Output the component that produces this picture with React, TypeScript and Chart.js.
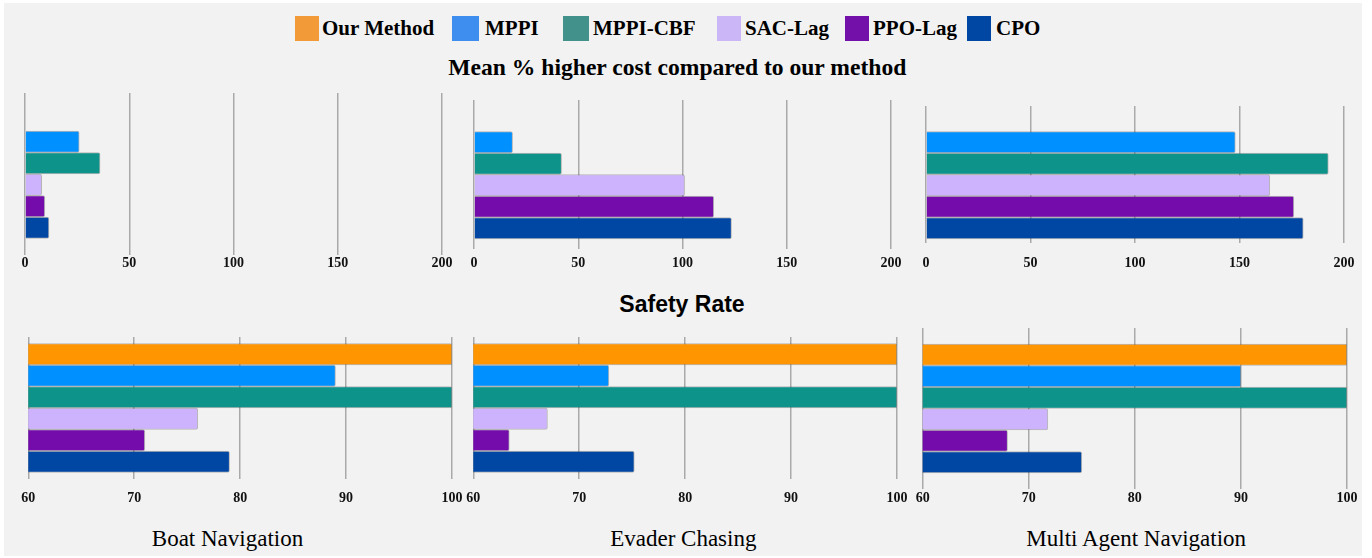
import React, { useEffect, useRef } from "react";
import { Chart, registerables } from "chart.js";
Chart.register(...registerables);

// ---------- data ----------
const METHODS = ["Our Method", "MPPI", "MPPI-CBF", "SAC-Lag", "PPO-Lag", "CPO"];
const BAR_COLORS = ["#ff9500", "#0090ff", "#0e938b", "#cdb3fe", "#730cab", "#0047a4"];
const LEGEND_COLORS = ["#f39a38", "#3e8ef0", "#42918a", "#cbb6f7", "#7210a9", "#0047a3"];
const TASKS = ["Boat Navigation", "Evader Chasing", "Multi Agent Navigation"];

const COST_BOAT = [0, 26, 36, 8, 9.5, 11.5];
const COST_EVADER = [0, 18.5, 42, 101, 115, 123.5];
const COST_MULTI = [0, 148, 192.5, 164.5, 176, 180.5];

const SAFETY_BOAT = [100, 89, 100, 76, 71, 79];
const SAFETY_EVADER = [100, 72.8, 100, 67, 63.4, 75.2];
const SAFETY_MULTI = [100, 90, 100, 71.8, 68, 75];

const COST_TICKS = [0, 50, 100, 150, 200];
const SAFETY_TICKS = [60, 70, 80, 90, 100];

// ---------- layout (pixels) ----------
const LEGEND_BOX_X = [295, 452, 563, 717, 845, 967];
const LEGEND_BOX_W = [24, 27, 26, 24, 24, 24];
const LEGEND_TEXT_X = [322, 485, 593, 745, 873, 996];

type Rect = { l: number; r: number; t: number; b: number; pad: number };
const PADL = 32;
const PADR = 32;
const PADT = 4;
const PADB = 2;
const AX = 32;
const TICK_FONT = 14;

const PANELS: { task: string; values: number[]; ticks: number[]; rect: Rect }[] = [
  { task: TASKS[0], values: COST_BOAT, ticks: COST_TICKS, rect: { l: 25, r: 442, t: 93, b: 255, pad: 0 } },
  { task: TASKS[1], values: COST_EVADER, ticks: COST_TICKS, rect: { l: 474, r: 891, t: 100, b: 249, pad: 5.7 } },
  { task: TASKS[2], values: COST_MULTI, ticks: COST_TICKS, rect: { l: 926, r: 1344, t: 106, b: 243, pad: 11.7 } },
  { task: TASKS[0], values: SAFETY_BOAT, ticks: SAFETY_TICKS, rect: { l: 28.3, r: 452, t: 337, b: 479, pad: 11 } },
  { task: TASKS[1], values: SAFETY_EVADER, ticks: SAFETY_TICKS, rect: { l: 473.3, r: 897, t: 337, b: 479, pad: 11 } },
  { task: TASKS[2], values: SAFETY_MULTI, ticks: SAFETY_TICKS, rect: { l: 922.7, r: 1347, t: 328, b: 489, pad: 1 } },
];

function Panel({ task, values, ticks, rect }: { task: string; values: number[]; ticks: number[]; rect: Rect }) {
  const ref = useRef<HTMLCanvasElement | null>(null);
  const left = Math.round(rect.l - PADL);
  const padL = rect.l - left;
  const width = Math.round(rect.r - left + PADR);
  const padR = width - (rect.r - left);
  const top = Math.round(rect.t - PADT);
  const padT = rect.t - top;
  const height = Math.round(rect.b - top + AX + PADB);
  const padB = height - (rect.b - top) - AX;

  useEffect(() => {
    if (!ref.current) return;
    const chart = new Chart(ref.current, {
      type: "bar",
      data: {
        labels: [task],
        datasets: METHODS.map((m, i) => ({
          label: m,
          data: [values[i]],
          backgroundColor: BAR_COLORS[i],
          borderColor: "rgba(70,70,70,0.35)",
          borderWidth: 1,
          borderRadius: 2,
          barThickness: 21.5,
        })),
      },
      options: {
        indexAxis: "y",
        animation: false,
        responsive: false,
        maintainAspectRatio: false,
        layout: { padding: { left: padL, right: padR, top: padT, bottom: padB } },
        plugins: { legend: { display: false }, tooltip: { enabled: false }, title: { display: false } },
        scales: {
          y: { display: false },
          x: {
            min: ticks[0],
            max: ticks[ticks.length - 1],
            border: { display: false },
            grid: { color: "#a9a9a9", lineWidth: 1.5, drawTicks: false },
            afterFit: (scale: any) => {
              scale.height = AX;
            },
            ticks: {
              stepSize: ticks[1] - ticks[0],
              padding: rect.pad,
              color: "#111",
              maxRotation: 0,
              autoSkip: false,
              font: { family: "'Liberation Serif', 'Times New Roman', serif", weight: "bold", size: TICK_FONT },
            },
          },
        },
      },
    });
    return () => chart.destroy();
  }, []);

  return (
    <canvas
      ref={ref}
      width={width}
      height={height}
      style={{ position: "absolute", left, top, width, height }}
    />
  );
}

const serif = "'Liberation Serif', 'Times New Roman', serif";
const sans = "'Liberation Sans', Arial, sans-serif";

export default function App() {
  return (
    <div style={{ position: "fixed", left: 0, top: 0, width: 1372, height: 558, background: "#ffffff", overflow: "hidden" }}>
      <div style={{ position: "absolute", left: 4, top: 3, width: 1358, height: 553, background: "#f2f2f2" }} />
      {METHODS.map((m, i) => (
        <React.Fragment key={m}>
          <div
            style={{
              position: "absolute",
              left: LEGEND_BOX_X[i],
              top: 16,
              width: LEGEND_BOX_W[i],
              height: 25,
              background: LEGEND_COLORS[i],
            }}
          />
          <div
            style={{
              position: "absolute",
              left: LEGEND_TEXT_X[i],
              top: 18.4,
              fontFamily: serif,
              fontWeight: "bold",
              fontSize: 21,
              lineHeight: 1,
              whiteSpace: "nowrap",
              color: "#000",
            }}
          >
            {m}
          </div>
        </React.Fragment>
      ))}
      <div
        style={{
          position: "absolute",
          left: 677.3,
          top: 56.2,
          transform: "translateX(-50%)",
          fontFamily: serif,
          fontWeight: "bold",
          fontSize: 23.6,
          lineHeight: 1,
          whiteSpace: "nowrap",
          color: "#000",
        }}
      >
        Mean % higher cost compared to our method
      </div>
      <div
        style={{
          position: "absolute",
          left: 682,
          top: 292.8,
          transform: "translateX(-50%)",
          fontFamily: sans,
          fontWeight: "bold",
          fontSize: 23,
          lineHeight: 1,
          whiteSpace: "nowrap",
          color: "#000",
        }}
      >
        Safety Rate
      </div>
      {[227.5, 683.3, 1136.2].map((cx, i) => (
        <div
          key={TASKS[i]}
          style={{
            position: "absolute",
            left: cx,
            top: 527.4,
            transform: "translateX(-50%)",
            fontFamily: serif,
            fontSize: 23,
            lineHeight: 1,
            whiteSpace: "nowrap",
            color: "#000",
          }}
        >
          {TASKS[i]}
        </div>
      ))}
      {PANELS.map((p, i) => (
        <Panel key={i} task={p.task} values={p.values} ticks={p.ticks} rect={p.rect} />
      ))}
    </div>
  );
}
